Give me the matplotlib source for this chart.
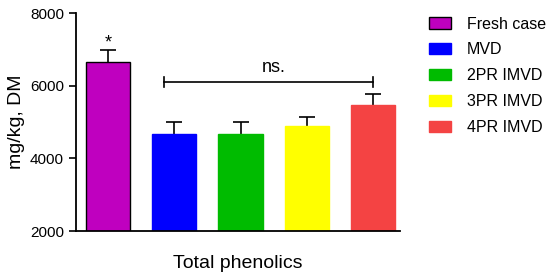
import numpy as np
import matplotlib

matplotlib.use("Agg")
import matplotlib.pyplot as plt
from matplotlib.patches import Patch

plt.rcParams.update({
    "font.family": ["Liberation Sans", "DejaVu Sans"],
    "font.size": 10,
})

groups = ["Fresh case", "MVD", "2PR IMVD", "3PR IMVD", "4PR IMVD"]
means = [6640, 4670, 4670, 4890, 5460]
errs = [350, 330, 330, 250, 310]
colors = ["#BF00BF", "#0000FF", "#00BB00", "#FFFF00", "#F44343"]
edges = ["black", "#0000FF", "#00BB00", "#FFFF00", "#F44343"]

fig = plt.figure(figsize=(5.5, 2.77), dpi=100)
ax = fig.add_axes([0.138, 0.166, 0.589, 0.787])

x = np.arange(len(groups))
ax.bar(x, means, width=0.667, color=colors, edgecolor=edges, linewidth=1.0,
       zorder=2)
eb = ax.errorbar(x, means, yerr=[np.zeros(len(errs)), errs], fmt="none",
                 ecolor="black", elinewidth=1.2, capsize=6, capthick=1.2,
                 zorder=1)
eb[1][0].set_visible(False)   # hide lower caps

# significance marks
ax.text(x[0], means[0] + errs[0] - 60, "*", ha="center", va="bottom",
        fontsize=13)
ax.plot([x[1] - 0.15, x[4]], [6100, 6100], color="black", lw=1.2)
ax.plot([x[1] - 0.15] * 2, [5960, 6240], color="black", lw=1.2)
ax.plot([x[4]] * 2, [5960, 6240], color="black", lw=1.2)
ax.text((x[1] - 0.15 + x[4]) / 2 + 0.08, 6280, "ns.", ha="center",
        va="bottom", fontsize=13)

ax.set_xlim(-0.49, 4.41)
ax.set_ylim(2000, 8000)
ax.set_yticks([2000, 4000, 6000, 8000])
ax.set_xticks([])
ax.set_ylabel("mg/kg, DM", fontsize=14)
ax.set_xlabel("Total phenolics", fontsize=14, labelpad=17)
ax.tick_params(axis="y", labelsize=11, width=1.2, length=5)
for s in ["top", "right"]:
    ax.spines[s].set_visible(False)
for s in ["left", "bottom"]:
    ax.spines[s].set_linewidth(1.3)

handles = [Patch(facecolor=c, edgecolor=e, linewidth=1.0)
           for c, e in zip(colors, edges)]
fig.legend(handles, groups, loc="upper left", bbox_to_anchor=(0.78, 0.94),
           frameon=False, fontsize=11.5, handlelength=1.4, handleheight=0.7,
           labelspacing=0.68, handletextpad=0.95, borderpad=0,
           borderaxespad=0)

fig.savefig("out.png", dpi=100)
